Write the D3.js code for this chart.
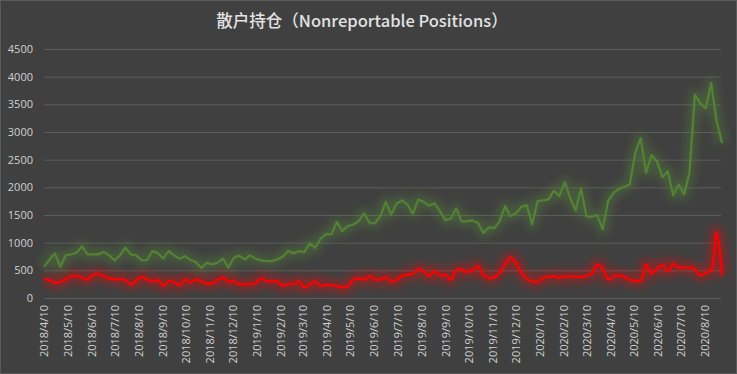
<!DOCTYPE html>
<html>
<head>
<meta charset="utf-8">
<script src="https://cdn.jsdelivr.net/npm/d3@7"></script>
<style>
  body { margin: 0; background: #404040; }
  svg { display: block; }
</style>
</head>
<body>
<div id="chart"></div>
<script>
// weekly reports, first Tuesday and count
var startDate = '2018-04-10',
    weeks = 126;

// green series (upper line)
var greenValues = [
  565, 690, 806, 565, 770, 790, 818, 932, 788, 788,
  788, 830, 770, 680, 770, 908, 788, 770, 686, 686,
  848, 806, 716, 848, 770, 710, 758, 686, 650, 541,
  638, 608, 638, 710, 547, 728, 765, 698, 770, 710,
  680, 668, 668, 698, 746, 848, 806, 848, 830, 987,
  908, 1071, 1155, 1155, 1372, 1209, 1300, 1324, 1390, 1528,
  1360, 1348, 1480, 1733, 1510, 1709, 1763, 1690, 1522, 1781,
  1733, 1672, 1709, 1570, 1408, 1432, 1618, 1384, 1384, 1402,
  1360, 1175, 1275, 1263, 1384, 1660, 1480, 1528, 1648, 1678,
  1330, 1751, 1763, 1781, 1937, 1841, 2094, 1811, 1582, 1979,
  1480, 1468, 1498, 1239, 1751, 1901, 1973, 2009, 2051, 2623,
  2888, 2262, 2581, 2473, 2184, 2292, 1859, 2051, 1877, 2262,
  3676, 3513, 3429, 3886, 3194, 2803
];

// red series (lower line)
var redValues = [
  337, 325, 277, 289, 337, 397, 397, 367, 325, 415,
  433, 397, 355, 337, 337, 325, 247, 307, 379, 337,
  301, 325, 217, 307, 289, 229, 337, 277, 337, 307,
  259, 265, 325, 367, 289, 307, 250, 253, 250, 265,
  361, 307, 301, 301, 217, 253, 253, 301, 187, 241,
  301, 217, 235, 229, 217, 187, 217, 325, 361, 325,
  397, 325, 337, 379, 295, 325, 397, 427, 433, 517,
  487, 397, 481, 409, 415, 325, 505, 517, 469, 505,
  577, 418, 361, 373, 457, 608, 728, 638, 457, 349,
  301, 289, 367, 379, 397, 361, 397, 385, 391, 379,
  397, 445, 602, 529, 337, 385, 409, 385, 325, 313,
  307, 602, 445, 529, 596, 481, 620, 547, 553, 553,
  517, 409, 457, 505, 1191, 409
];

var yTicks = [0, 500, 1000, 1500, 2000, 2500, 3000, 3500, 4000, 4500];
var xTickDates = [
  '2018/4/10', '2018/5/10', '2018/6/10', '2018/7/10', '2018/8/10', '2018/9/10',
  '2018/10/10', '2018/11/10', '2018/12/10', '2019/1/10', '2019/2/10', '2019/3/10',
  '2019/4/10', '2019/5/10', '2019/6/10', '2019/7/10', '2019/8/10', '2019/9/10',
  '2019/10/10', '2019/11/10', '2019/12/10', '2020/1/10', '2020/2/10', '2020/3/10',
  '2020/4/10', '2020/5/10', '2020/6/10', '2020/7/10', '2020/8/10'
];
var title = '散户持仓（Nonreportable Positions）';

var width = 737, height = 374,
    margin = {top: 49, right: 15, bottom: 76, left: 44};

var parse = d3.timeParse('%Y/%m/%d');
var dates = d3.range(weeks).map(function(i) {
  return d3.timeDay.offset(d3.timeParse('%Y-%m-%d')(startDate), i * 7);
});

var x = d3.scaleTime()
    .domain([dates[0], dates[dates.length - 1]])
    .range([margin.left, width - margin.right]);
var y = d3.scaleLinear()
    .domain([0, 4500])
    .range([height - margin.bottom, margin.top]);

var svg = d3.select('#chart')
  .append('svg')
    .attr('width', width)
    .attr('height', height);

svg.append('rect')
  .attr('x', 0.5).attr('y', 0.5)
  .attr('width', width - 1).attr('height', height - 1)
  .style('fill', '#404040')
  .style('stroke', '#5a5a5a');

var defs = svg.append('defs');
defs.append('filter')
    .attr('id', 'glow')
    .attr('x', '-10%').attr('y', '-50%')
    .attr('width', '120%').attr('height', '200%')
  .append('feGaussianBlur')
    .attr('stdDeviation', 4);

svg.append('text')
  .attr('x', 362)
  .attr('y', 27)
  .attr('text-anchor', 'middle')
  .style('font-family', '"Noto Sans CJK SC", "Open Sans", sans-serif')
  .style('font-size', '16.5px')
  .style('font-weight', 500)
  .style('fill', '#e2e2e2')
  .text(title);

// gridlines + y labels
var yAxis = svg.append('g')
  .attr('transform', 'translate(' + margin.left + ',0)')
  .call(d3.axisLeft(y)
    .tickValues(yTicks)
    .tickFormat(d3.format('d'))
    .tickSize(-(width - margin.left - margin.right - 1))
    .tickPadding(11));
yAxis.select('.domain').remove();
yAxis.selectAll('line').style('stroke', '#5c5c5c');
yAxis.selectAll('text')
  .style('fill', '#d0d0d0')
  .style('font-family', '"Open Sans", "DejaVu Sans", sans-serif')
  .style('font-size', '11px');

// x labels
var xAxis = svg.append('g')
  .attr('transform', 'translate(0,' + (height - margin.bottom) + ')')
  .call(d3.axisBottom(x)
    .tickValues(xTickDates.map(parse))
    .tickFormat(function(d, i) { return xTickDates[i]; })
    .tickSize(0)
    .tickPadding(0));
xAxis.select('.domain').remove();
xAxis.selectAll('text')
  .attr('transform', 'rotate(-90)')
  .attr('x', -7)
  .attr('y', 0)
  .attr('dy', '0.35em')
  .style('text-anchor', 'end')
  .style('fill', '#d0d0d0')
  .style('font-family', '"Open Sans", "DejaVu Sans", sans-serif')
  .style('font-size', '11px');

function drawSeries(values, color, curve) {
  var line = d3.line()
      .x(function(d, i) { return x(dates[i]); })
      .y(function(d) { return y(d); })
      .curve(curve);
  svg.append('path')
    .datum(values)
    .attr('d', line)
    .attr('filter', 'url(#glow)')
    .style('fill', 'none')
    .style('stroke', color)
    .style('stroke-opacity', 0.4)
    .style('stroke-width', 11)
    .style('stroke-linejoin', 'round');
  svg.append('path')
    .datum(values)
    .attr('d', line)
    .style('fill', 'none')
    .style('stroke', color)
    .style('stroke-width', 2.25)
    .style('stroke-linejoin', 'round');
}

drawSeries(greenValues, '#548235', d3.curveLinear);
drawSeries(redValues, '#ff0000', d3.curveCatmullRom.alpha(0.5));
</script>
</body>
</html>
